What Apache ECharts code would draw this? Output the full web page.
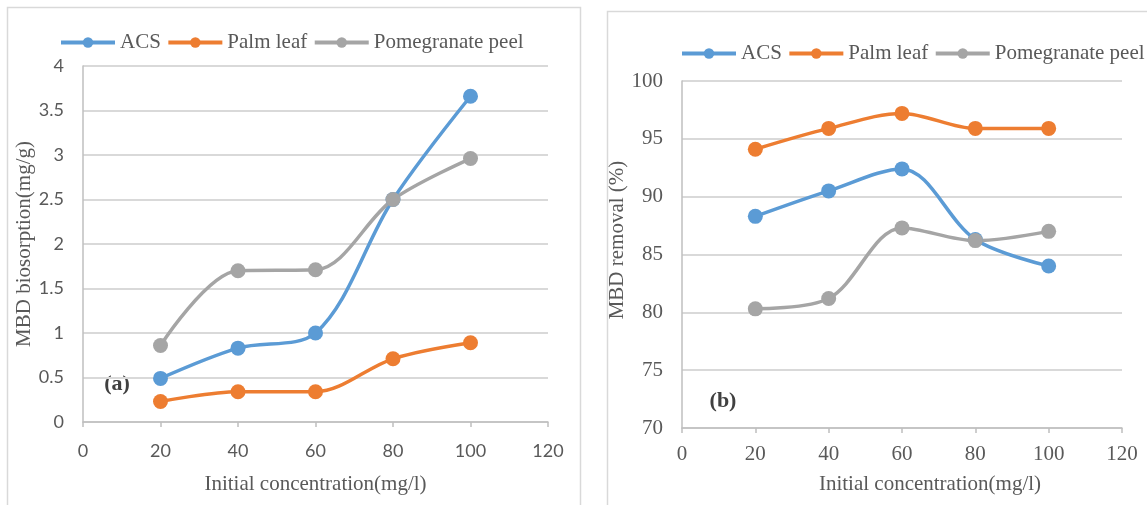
<!DOCTYPE html>
<html>
<head>
<meta charset="utf-8">
<script src="https://cdn.jsdelivr.net/npm/echarts@6/dist/echarts.min.js"></script>
<style>
  html, body { margin: 0; padding: 0; background: #ffffff; }
  #chart { width: 1147px; height: 505px; }
</style>
</head>
<body>
<div id="chart"></div>
<script>
// Initial MBD concentration (mg/l)
const concentration = [20, 40, 60, 80, 100];
const seriesNames = ['ACS', 'Palm leaf', 'Pomegranate peel'];

// (a) MBD biosorption (mg/g)
const biosorptionACS = [0.49, 0.83, 1.0, 2.5, 3.66];
const biosorptionPalm = [0.23, 0.34, 0.34, 0.71, 0.89];
const biosorptionPomegranate = [0.86, 1.70, 1.71, 2.5, 2.96];

// (b) MBD removal (%)
const removalACS = [88.3, 90.5, 92.4, 86.3, 84.0];
const removalPalm = [94.1, 95.9, 97.2, 95.9, 95.9];
const removalPomegranate = [80.3, 81.2, 87.3, 86.2, 87.0];

const colors = ['#5B9BD5', '#ED7D31', '#A5A5A5'];
const serif = '"Liberation Serif", "DejaVu Serif", serif';
const sans = 'Lato, "Open Sans", sans-serif';
const textGrey = '#595959';
const gridGrey = '#D9D9D9';
const axisGrey = '#BFBFBF';

const pairs = (ys) => concentration.map((x, i) => [x, ys[i]]);

function lineSeries(name, ys, idx, color) {
  return {
    name: name,
    type: 'line',
    xAxisIndex: idx,
    yAxisIndex: idx,
    data: pairs(ys),
    smooth: 0.33,
    symbol: 'circle',
    symbolSize: 15,
    lineStyle: { width: 3.5, color: color },
    itemStyle: { color: color },
    emphasis: { disabled: true }
  };
}

function xAxisCfg(gridIndex, labelFont, labelSize, labelMargin, nameGap, namePad) {
  return {
    type: 'value',
    gridIndex: gridIndex,
    min: 0, max: 120, interval: 20,
    name: 'Initial concentration(mg/l)',
    nameLocation: 'middle',
    nameGap: nameGap,
    nameTextStyle: { fontFamily: serif, fontSize: 21, color: textGrey, padding: namePad },
    axisLine: { show: true, lineStyle: { color: axisGrey, width: 1.5 } },
    axisTick: { show: true, length: 5, lineStyle: { color: axisGrey, width: 1.5 } },
    axisLabel: { fontFamily: labelFont, fontSize: labelSize, color: textGrey, margin: labelMargin },
    splitLine: { show: false }
  };
}

function yAxisCfg(gridIndex, min, max, interval, name, labelFont, labelSize, nameGap, namePad) {
  return {
    type: 'value',
    gridIndex: gridIndex,
    min: min, max: max, interval: interval,
    name: name,
    nameLocation: 'middle',
    nameGap: nameGap,
    nameTextStyle: { fontFamily: serif, fontSize: 21, color: textGrey, padding: namePad },
    axisLine: { show: true, lineStyle: { color: axisGrey, width: 1.5 } },
    axisTick: { show: false },
    axisLabel: { fontFamily: labelFont, fontSize: labelSize, color: textGrey, margin: 19 },
    splitLine: { show: true, lineStyle: { color: gridGrey, width: 2 } }
  };
}

function legendCfg(left, top) {
  return {
    left: left, top: top,
    width: 700,
    padding: 0,
    orient: 'horizontal',
    itemWidth: 54, itemHeight: 13, itemGap: 5.5,
    data: seriesNames,
    selectedMode: false,
    lineStyle: { width: 4 },
    textStyle: { fontFamily: serif, fontSize: 21, color: textGrey }
  };
}

const chart = echarts.init(document.getElementById('chart'), null, { renderer: 'canvas' });

chart.setOption({
  backgroundColor: '#ffffff',
  animation: false,
  color: colors,
  legend: [legendCfg(59, 32), legendCfg(680, 43)],
  grid: [
    { left: 83, top: 66, width: 465, height: 356 },
    { left: 682, top: 81, width: 440, height: 347 }
  ],
  xAxis: [
    xAxisCfg(0, sans, 18, 20, 52, [0, 0, 0, 0]),
    xAxisCfg(1, serif, 21, 16, 46, [0, 0, 0, 56])
  ],
  yAxis: [
    yAxisCfg(0, 0, 4, 0.5, 'MBD biosorption(mg/g)', sans, 18, 46, [0, 0, 0, 0]),
    yAxisCfg(1, 70, 100, 5, 'MBD removal (%)', serif, 21, 45, [0, 0, 0, 29])
  ],
  series: [
    lineSeries('ACS', biosorptionACS, 0, colors[0]),
    lineSeries('Palm leaf', biosorptionPalm, 0, colors[1]),
    lineSeries('Pomegranate peel', biosorptionPomegranate, 0, colors[2]),
    lineSeries('ACS', removalACS, 1, colors[0]),
    lineSeries('Palm leaf', removalPalm, 1, colors[1]),
    lineSeries('Pomegranate peel', removalPomegranate, 1, colors[2])
  ],
  graphic: [
    // panel frames
    { type: 'rect', silent: true, z: -10,
      shape: { x: 7.5, y: 7.5, width: 573, height: 520 },
      style: { fill: 'none', stroke: gridGrey, lineWidth: 1.5 } },
    { type: 'rect', silent: true, z: -10,
      shape: { x: 607.5, y: 11.5, width: 600, height: 520 },
      style: { fill: 'none', stroke: gridGrey, lineWidth: 1.5 } },
    // panel tags
    { type: 'text', silent: true, x: 117, y: 384,
      style: { text: '(a)', fontFamily: serif, fontSize: 22, fontWeight: 'bold', fill: '#404040',
               align: 'center', verticalAlign: 'middle' } },
    { type: 'text', silent: true, x: 723, y: 401,
      style: { text: '(b)', fontFamily: serif, fontSize: 22, fontWeight: 'bold', fill: '#404040',
               align: 'center', verticalAlign: 'middle' } }
  ]
});
</script>
</body>
</html>
